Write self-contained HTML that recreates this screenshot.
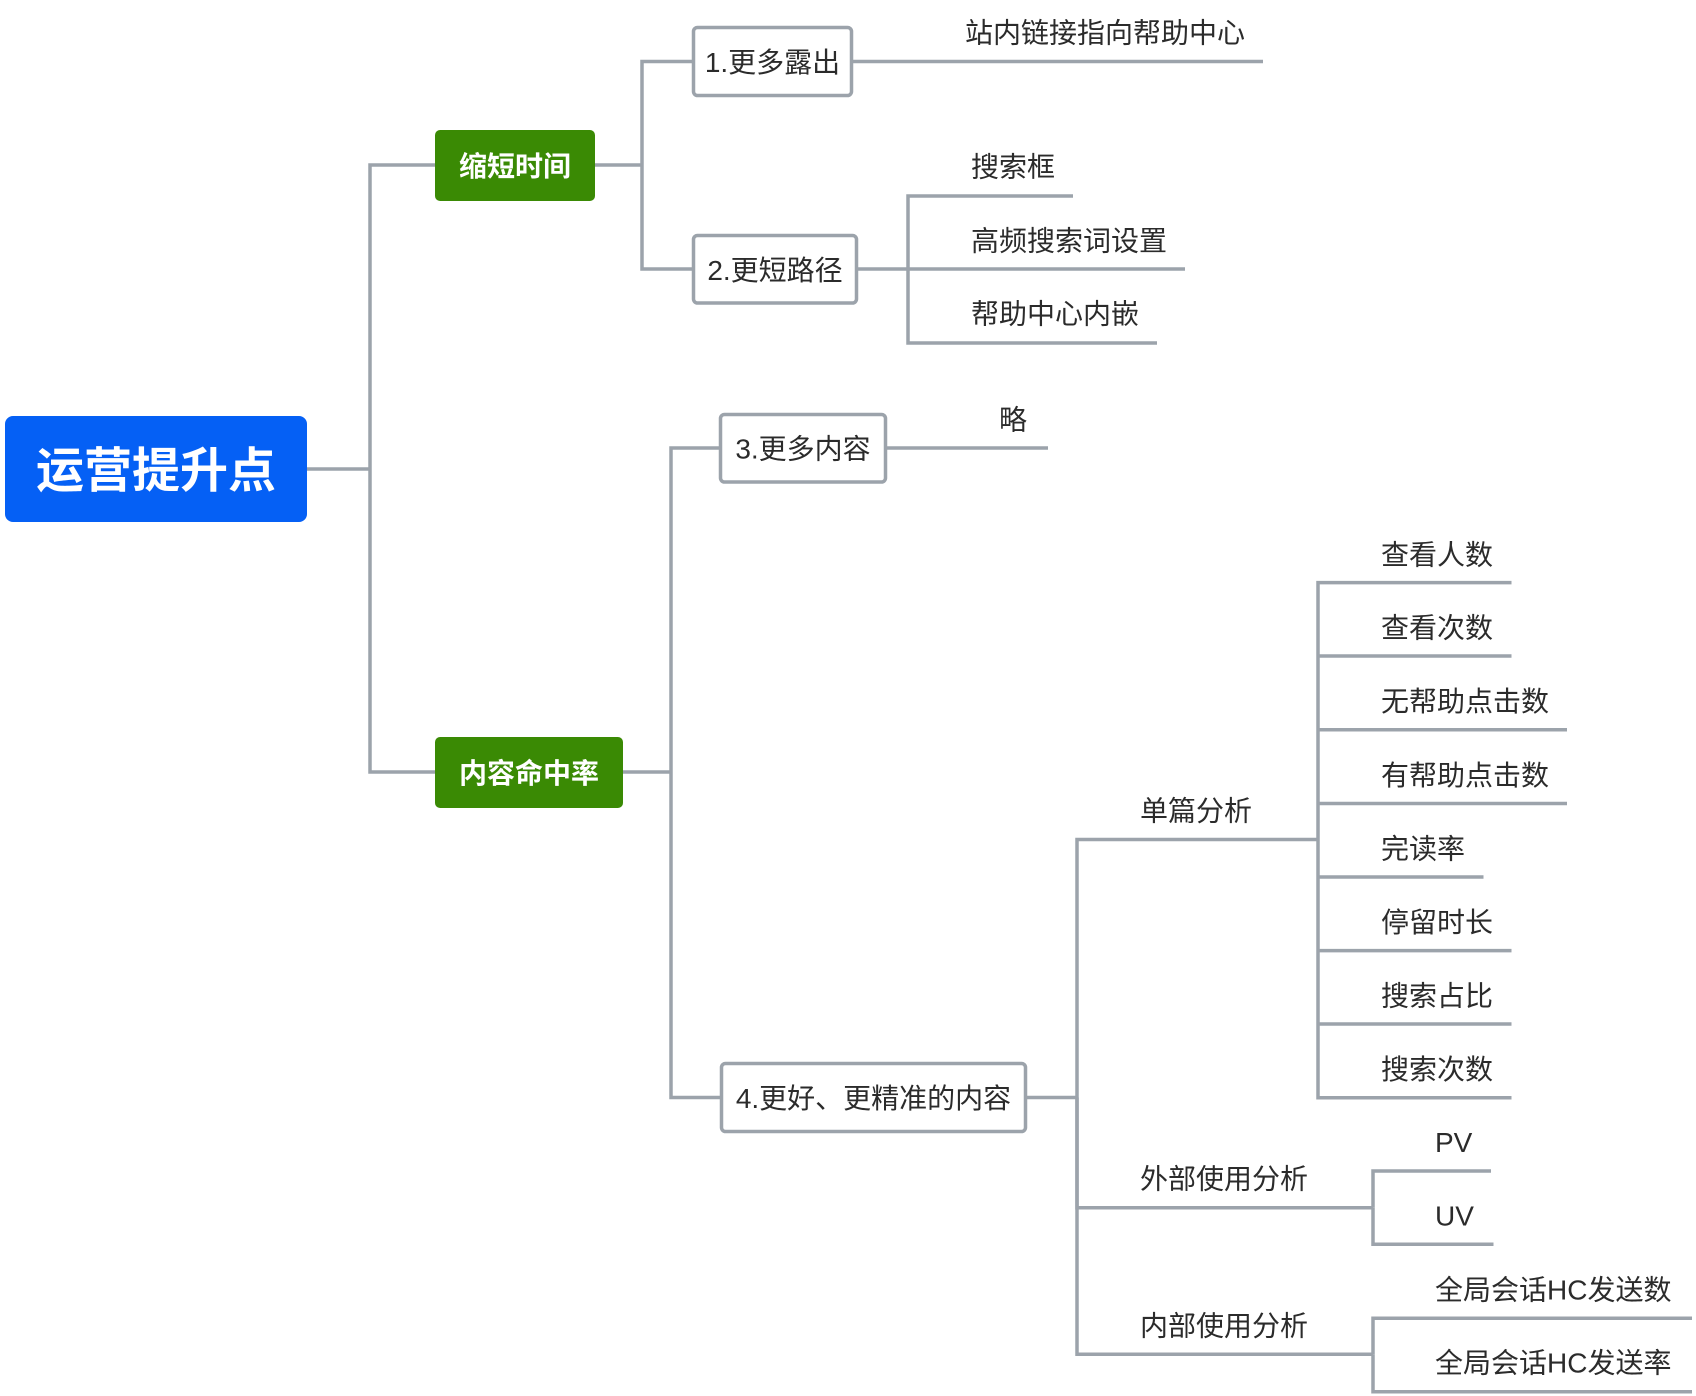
<!DOCTYPE html>
<html>
<head>
<meta charset="utf-8">
<style>
  html,body{margin:0;padding:0;background:#fff;}
  svg{display:block;}
  text{font-family:"Liberation Sans","Noto Sans CJK SC",sans-serif;}
</style>
</head>
<body>
<svg width="1696" height="1396" viewBox="0 0 1696 1396" xmlns="http://www.w3.org/2000/svg">
  <g fill="none" stroke="#9ca3ab" stroke-width="3.5" stroke-linejoin="miter">
    <!-- root to level1 -->
    <path d="M307 469 H370"/>
    <path d="M370 469 V165 H435"/>
    <path d="M370 469 V772 H435"/>
    <!-- 缩短时间 children -->
    <path d="M595 165 H642"/>
    <path d="M642 165 V61.5 H692"/>
    <path d="M642 165 V269 H692"/>
    <!-- box1 leaf -->
    <path d="M853 61.5 H1263"/>
    <!-- box2 leaves -->
    <path d="M858 269 H1185"/>
    <path d="M908 269 V196 H1073"/>
    <path d="M908 269 V343 H1157"/>
    <!-- 内容命中率 children -->
    <path d="M623 772 H671"/>
    <path d="M671 772 V448 H719"/>
    <path d="M671 772 V1097.5 H720"/>
    <!-- box3 leaf -->
    <path d="M887 448 H1048"/>
    <!-- box4 children -->
    <path d="M1027 1097.5 H1077"/>
    <path d="M1077 1097.5 V839.5 H1318"/>
    <path d="M1077 1097.5 V1207.7 H1373"/>
    <path d="M1077 1097.5 V1354.3 H1373"/>
    <!-- 单篇分析 leaves -->
    <path d="M1318 839.5 V582.6 H1511.5"/>
    <path d="M1318 656 H1511.5"/>
    <path d="M1318 729.7 H1567"/>
    <path d="M1318 803.5 H1567"/>
    <path d="M1318 877 H1483.5"/>
    <path d="M1318 950.6 H1511.5"/>
    <path d="M1318 1024 H1511.5"/>
    <path d="M1318 839.5 V1097.7 H1511.5"/>
    <!-- 外部使用分析 leaves -->
    <path d="M1373 1207.7 V1171 H1491"/>
    <path d="M1373 1207.7 V1244.3 H1493.5"/>
    <!-- 内部使用分析 leaves -->
    <path d="M1373 1354.3 V1318.3 H1692"/>
    <path d="M1373 1354.3 V1391.7 H1692"/>
  </g>

  <!-- root -->
  <rect x="5" y="416" width="302" height="106" rx="8" fill="#0560f5"/>
  <text x="156" y="487" font-size="48" font-weight="bold" fill="#fff" text-anchor="middle">运营提升点</text>

  <!-- level1 -->
  <rect x="435" y="130" width="160" height="71" rx="5" fill="#3a8a04"/>
  <text x="515" y="176" font-size="28" font-weight="bold" fill="#fff" text-anchor="middle">缩短时间</text>
  <rect x="435" y="737" width="188" height="71" rx="5" fill="#3a8a04"/>
  <text x="529" y="783" font-size="28" font-weight="bold" fill="#fff" text-anchor="middle">内容命中率</text>

  <!-- level2 boxes -->
  <g fill="#fff" stroke="#9ca3ab" stroke-width="3.5">
    <rect x="693.5" y="27.5" width="158" height="68" rx="4"/>
    <rect x="693.5" y="235.5" width="163" height="67.5" rx="4"/>
    <rect x="720.5" y="414.5" width="165" height="67.5" rx="4"/>
    <rect x="721.5" y="1063.5" width="304" height="68" rx="4"/>
  </g>
  <g font-size="28" fill="#2b2b2b" text-anchor="middle">
    <text x="772.5" y="72">1.更多露出</text>
    <text x="775" y="280">2.更短路径</text>
    <text x="803" y="458.5">3.更多内容</text>
    <text x="873.5" y="1108">4.更好、更精准的内容</text>
  </g>

  <!-- leaf labels -->
  <g font-size="28" fill="#2b2b2b">
    <text x="965" y="42.5">站内链接指向帮助中心</text>
    <text x="971" y="176.5">搜索框</text>
    <text x="971" y="250.5">高频搜索词设置</text>
    <text x="971" y="323.5">帮助中心内嵌</text>
    <text x="999" y="429.5">略</text>

    <text x="1140" y="820.5">单篇分析</text>
    <text x="1140" y="1188.5">外部使用分析</text>
    <text x="1140" y="1335.5">内部使用分析</text>

    <text x="1381" y="564.5">查看人数</text>
    <text x="1381" y="637.5">查看次数</text>
    <text x="1381" y="711">无帮助点击数</text>
    <text x="1381" y="785">有帮助点击数</text>
    <text x="1381" y="858.5">完读率</text>
    <text x="1381" y="932">停留时长</text>
    <text x="1381" y="1005.5">搜索占比</text>
    <text x="1381" y="1079">搜索次数</text>

    <text x="1435" y="1152">PV</text>
    <text x="1435" y="1225.5">UV</text>
    <text x="1435" y="1299.5">全局会话HC发送数</text>
    <text x="1435" y="1372.5">全局会话HC发送率</text>
  </g>
</svg>
</body>
</html>
